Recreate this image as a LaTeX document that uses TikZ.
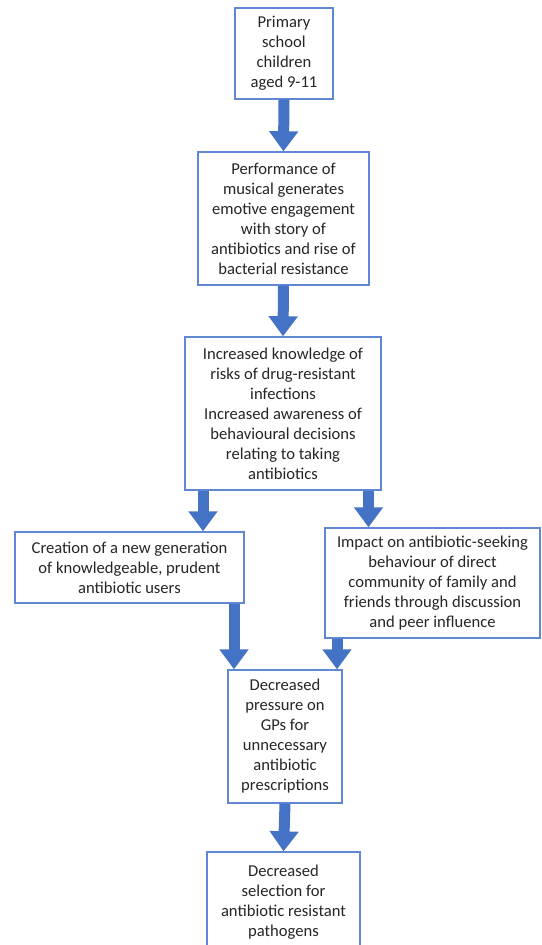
\documentclass[tikz,border=0pt]{standalone}
\usepackage{fontspec}
\setmainfont{Carlito}
\usetikzlibrary{arrows.meta}
\definecolor{boxblue}{RGB}{95,135,210}
\definecolor{arrowblue}{RGB}{68,114,196}
\tikzset{
  box/.style={draw=boxblue, line width=1.4pt, fill=white, inner sep=0pt, align=center,
    font=\fontsize{16.6}{20}\selectfont, text=black!85},
  fat/.style={draw=arrowblue, line width=11pt, -{Triangle[length=20pt,width=28pt,fill=arrowblue]}},
}
\begin{document}
\begin{tikzpicture}[x=1pt,y=1pt]
\useasboundingbox (0,0) rectangle (541,-945);
\node[box, minimum width=98pt, minimum height=91pt] (b1) at (284,-53.5)
  {Primary\\school\\children\\aged 9-11};
\node[box, minimum width=171pt, minimum height=133pt] (b2) at (283.5,-218.5)
  {Performance of\\musical generates\\emotive engagement\\with story of\\antibiotics and rise of\\bacterial resistance};
\node[box, minimum width=196pt, minimum height=153pt] (b3) at (283,-413.5)
  {Increased knowledge of\\risks of drug-resistant\\infections\\Increased awareness of\\behavioural decisions\\relating to taking\\antibiotics};
\node[box, minimum width=229pt, minimum height=71pt] (bl) at (129.5,-567.5)
  {Creation of a new generation\\of knowledgeable, prudent\\antibiotic users};
\node[box, minimum width=215pt, minimum height=110pt] (br) at (432.5,-583)
  {Impact on antibiotic-seeking\\behaviour of direct\\community of family and\\friends through discussion\\and peer influence};
\node[box, minimum width=114pt, minimum height=133pt] (b5) at (285,-736.5)
  {Decreased\\pressure on\\GPs for\\unnecessary\\antibiotic\\prescriptions};
\node[box, minimum width=153pt, minimum height=100pt] (b6) at (283.5,-902)
  {Decreased\\selection for\\antibiotic resistant\\pathogens};
\draw[fat] (b1.south) -- (b2.north);
\draw[fat] (b2.south) -- (b3.north);
\draw[fat] ([xshift=-80pt]b3.south) -- ([xshift=-80pt]b3.south |- bl.north);
\draw[fat] ([xshift=85.5pt]b3.south) -- ([xshift=85.5pt]b3.south |- br.north);
\draw[fat] ([xshift=104.5pt]bl.south) -- ([xshift=104.5pt]bl.south |- b5.north);
\draw[fat] ([xshift=-95.5pt]br.south) -- ([xshift=-95.5pt]br.south |- b5.north);
\draw[fat] (b5.south) -- (b6.north);
\end{tikzpicture}
\end{document}
